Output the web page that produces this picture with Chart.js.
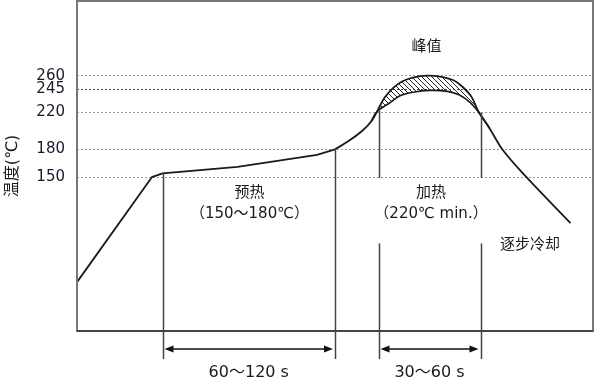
<!DOCTYPE html>
<html>
<head>
<meta charset="utf-8">
<script src="https://cdn.jsdelivr.net/npm/chart.js@4"></script>
<style>
  html, body { margin: 0; padding: 0; background: #fff; }
  canvas { display: block; }
</style>
</head>
<body>
<canvas id="myChart" width="598" height="385"></canvas>
<script>
// reflow profile, time (s, arbitrary) vs temperature (C)
// straight ramp + preheat soak
const rampT = [0, 50, 57, 107, 160, 172]
const rampV = [36, 150, 154, 161, 174, 180]

// smooth rise to reflow
const riseT = [181, 190, 196]
const riseV = [189, 200, 210]

// outer peak curve (260) and inner curve (245)
const peakUpperT = [200, 205, 211, 217, 224, 233, 242, 251, 257, 263, 268]
const peakUpperV = [221, 236, 247, 254, 258, 260, 259, 255, 248, 237, 220]
const peakLowerT = [209, 215, 224, 235, 247, 255, 262]
const peakLowerV = [231, 238, 242, 244, 243, 239, 231]

// cooling
const coolT = [275, 284, 299, 329]
const coolV = [203, 179, 151, 100]

const yTicks = [150, 180, 220, 245, 260]

// marker times: preheat start/end, heating start/end
const preheatStart = 57
const preheatEnd = 172
const heatStart = 201
const heatEnd = 269

const toPts = (ts, vs) => ts.map((t, i) => ({ x: t, y: vs[i] }))
const last = (a) => a[a.length - 1]

const rampPts = toPts(rampT, rampV)
const risePts = toPts(riseT, riseV)
const upperPts = toPts(peakUpperT, peakUpperV)
const coolPts = toPts(coolT, coolV)

const mainPts = [last(rampPts)].concat(risePts, upperPts, coolPts)
const lowerPts = [last(risePts), upperPts[0]].concat(toPts(peakLowerT, peakLowerV), [last(upperPts), coolPts[0]])
const hatchPts = [last(risePts)].concat(upperPts, [coolPts[0]])

function hatch() {
    const c = document.createElement('canvas')
    c.width = 5
    c.height = 5
    const g = c.getContext('2d')
    g.strokeStyle = '#222'
    g.lineWidth = 1
    g.beginPath()
    g.moveTo(0, 0); g.lineTo(5, 5)
    g.moveTo(-1, 4); g.lineTo(1, 6)
    g.moveTo(4, -1); g.lineTo(6, 1)
    g.stroke()
    return g.createPattern(c, 'repeat')
}

const cjk = '"DejaVu Sans", "Noto Sans CJK SC", sans-serif'

const notes = {
    id: 'notes',
    afterDatasetsDraw(chart) {
        const ctx = chart.ctx
        const x = chart.scales.x
        const y = chart.scales.y
        const area = chart.chartArea
        const lineBottom = area.bottom + 28
        const arrowY = area.bottom + 18

        ctx.save()
        // vertical markers
        ctx.strokeStyle = '#444'
        ctx.lineWidth = 1.5
        const vline = (t, v1, y2) => {
            ctx.beginPath()
            ctx.moveTo(Math.round(x.getPixelForValue(t)) + 0.5, v1)
            ctx.lineTo(Math.round(x.getPixelForValue(t)) + 0.5, y2)
            ctx.stroke()
        }
        vline(preheatStart, y.getPixelForValue(154), lineBottom)
        vline(preheatEnd, y.getPixelForValue(180), lineBottom)
        vline(heatStart, y.getPixelForValue(222), y.getPixelForValue(149))
        vline(heatStart, y.getPixelForValue(78), lineBottom)
        vline(heatEnd, y.getPixelForValue(220), y.getPixelForValue(149))
        vline(heatEnd, y.getPixelForValue(78), lineBottom)

        // double arrows
        const arrow = (t1, t2) => {
            const a = x.getPixelForValue(t1) + 2
            const b = x.getPixelForValue(t2) - 2
            ctx.strokeStyle = '#111'
            ctx.fillStyle = '#111'
            ctx.lineWidth = 1.5
            ctx.beginPath()
            ctx.moveTo(a + 4, arrowY)
            ctx.lineTo(b - 4, arrowY)
            ctx.stroke()
            ctx.beginPath()
            ctx.moveTo(a, arrowY); ctx.lineTo(a + 9, arrowY - 3.5); ctx.lineTo(a + 9, arrowY + 3.5)
            ctx.closePath(); ctx.fill()
            ctx.beginPath()
            ctx.moveTo(b, arrowY); ctx.lineTo(b - 9, arrowY - 3.5); ctx.lineTo(b - 9, arrowY + 3.5)
            ctx.closePath(); ctx.fill()
        }
        arrow(preheatStart, preheatEnd)
        arrow(heatStart, heatEnd)

        // texts
        ctx.fillStyle = '#1a1a1a'
        ctx.textAlign = 'center'
        ctx.textBaseline = 'middle'
        ctx.font = '15px ' + cjk
        const txt = (s, t, v) => ctx.fillText(s, x.getPixelForValue(t), y.getPixelForValue(v))
        txt('峰值', 233, 291)
        txt('预热', 115, 133)
        txt('（150～180℃）', 115, 110)
        txt('加热', 236, 133)
        txt('（220℃ min.）', 236, 110)
        txt('逐步冷却', 302, 76)
        ctx.font = '16px ' + cjk
        ctx.fillText('60～120 s', (x.getPixelForValue(preheatStart) + x.getPixelForValue(preheatEnd)) / 2, area.bottom + 42)
        ctx.fillText('30～60 s', (x.getPixelForValue(heatStart) + x.getPixelForValue(heatEnd)) / 2, area.bottom + 42)

        // plot box
        ctx.strokeStyle = '#777'
        ctx.lineWidth = 2
        ctx.strokeRect(area.left, area.top, area.right - area.left, area.bottom - area.top)
        ctx.strokeStyle = '#333'
        ctx.lineWidth = 1.5
        ctx.beginPath()
        ctx.moveTo(area.left, area.bottom)
        ctx.lineTo(area.right, area.bottom)
        ctx.stroke()
        ctx.restore()
    }
}

new Chart(document.getElementById('myChart'), {
    type: 'line',
    data: {
        datasets: [{
            data: rampPts,
            borderColor: '#1a1a1a',
            borderWidth: 1.8,
            pointRadius: 0,
            tension: 0,
            fill: false
        }, {
            data: mainPts,
            borderColor: '#1a1a1a',
            borderWidth: 1.8,
            pointRadius: 0,
            tension: 0.35,
            fill: false
        }, {
            data: lowerPts,
            borderColor: '#1a1a1a',
            borderWidth: 1.6,
            pointRadius: 0,
            tension: 0.35,
            fill: false
        }, {
            data: hatchPts,
            borderWidth: 0,
            borderColor: 'rgba(0,0,0,0)',
            pointRadius: 0,
            tension: 0.35,
            fill: { target: 2 },
            backgroundColor: hatch()
        }]
    },
    options: {
        responsive: false,
        animation: false,
        layout: { padding: { top: 1, right: 5, bottom: 54, left: 0 } },
        plugins: {
            legend: { display: false },
            tooltip: { enabled: false }
        },
        scales: {
            x: {
                type: 'linear',
                min: 0,
                max: 344,
                display: false
            },
            y: {
                type: 'linear',
                min: -17,
                max: 341,
                afterBuildTicks: (s) => { s.ticks = yTicks.map((v) => ({ value: v })) },
                afterFit: (s) => {
                    s.width = 77
                    s.paddingTop = 0
                    s.paddingBottom = 0
                },
                border: { display: false, dash: [2, 2] },
                grid: {
                    drawTicks: false,
                    color: (c) => c.tick && c.tick.value === 245 ? '#444' : '#999',
                    lineWidth: 1
                },
                ticks: {
                    padding: 12,
                    color: '#1a1a2a',
                    font: { family: 'DejaVu Sans', size: 15 }
                },
                title: {
                    display: true,
                    text: '温度(℃)',
                    color: '#1a1a1a',
                    padding: { top: 3, bottom: 0 },
                    font: { family: cjk, size: 16 }
                }
            }
        }
    },
    plugins: [notes]
})
</script>
</body>
</html>
